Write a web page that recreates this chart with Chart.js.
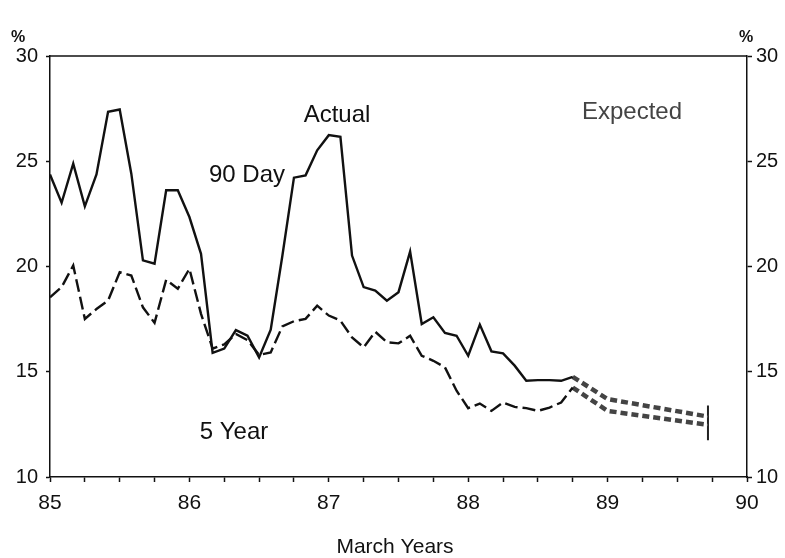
<!DOCTYPE html>
<html>
<head>
<meta charset="utf-8">
<script src="https://cdn.jsdelivr.net/npm/chart.js@4.4.0/dist/chart.umd.min.js"></script>
<style>
  body { margin: 0; background: #fff; }
  #wrap { width: 785px; height: 558px; }
</style>
</head>
<body>
<div id="wrap"><canvas id="myChart"></canvas></div>
<script>
// monthly points starting March 85
const startYear = 85;
const dayRates = [24.37, 23.03, 24.89, 22.86, 24.37, 27.35, 27.46, 24.41, 20.29, 20.13, 23.62, 23.62,
  22.35, 20.6, 15.9, 16.1, 16.98, 16.71, 15.68, 17.0, 20.5, 24.22, 24.33, 25.52,
  26.24, 26.16, 20.52, 19.02, 18.86, 18.38, 18.78, 20.71, 17.27, 17.59, 16.84, 16.71,
  15.76, 17.24, 15.97, 15.87, 15.29, 14.57, 14.6, 14.6, 14.57, 14.76];
const yearRates = [18.54, 19.02, 20.05, 17.51, 17.98, 18.38, 19.73, 19.57, 18.06, 17.32, 19.37, 18.94,
  19.89, 17.75, 16.1, 16.3, 16.8, 16.5, 15.8, 15.92, 17.15, 17.4, 17.51, 18.14,
  17.67, 17.43, 16.63, 16.16, 16.9, 16.4, 16.35, 16.71, 15.76, 15.52, 15.21, 14.1,
  13.27, 13.49, 13.14, 13.54, 13.33, 13.27, 13.14, 13.3, 13.54, 14.25];

// expected part
const expYears = [88.75, 89.0, 89.72];
const expDay = [14.76, 13.7, 12.87];
const expYear = [14.25, 13.14, 12.48];
const endBar = [13.4, 11.75];

const yTicks = [10, 15, 20, 25, 30];
const xLabels = [85, 86, 87, 88, 89, 90];

const FONT = "'Liberation Sans', Arial, sans-serif";

function toPoints(xs, ys) {
  return ys.map((v, i) => ({ x: xs[i], y: v }));
}
const months = dayRates.map((v, i) => startYear + i / 12);

const outline = {
  id: "outline",
  afterDraw(chart) {
    const ctx = chart.ctx;
    const a = chart.chartArea;
    ctx.save();
    ctx.strokeStyle = "#111";
    ctx.lineWidth = 1.5;
    ctx.beginPath();
    ctx.moveTo(a.left, a.top);
    ctx.lineTo(a.right, a.top);
    ctx.stroke();

    ctx.fillStyle = "#111";
    ctx.textAlign = "center";
    ctx.textBaseline = "middle";
    ctx.font = "24px " + FONT;
    ctx.fillText("Actual", 337, 115);
    ctx.fillText("90 Day", 247, 175);
    ctx.fillText("5 Year", 234, 432);
    ctx.fillStyle = "#444";
    ctx.fillText("Expected", 632, 112);
    ctx.fillStyle = "#111";
    ctx.font = "21px " + FONT;
    ctx.fillText("March Years", 395, 547);
    ctx.font = "bold 16px " + FONT;
    ctx.fillText("%", 18, 38);
    ctx.fillText("%", 746, 38);
    ctx.restore();
  },
};

const config = {
  type: "line",
  data: {
    datasets: [
      {
        label: "90 Day",
        data: toPoints(months, dayRates),
        borderColor: "#111",
        borderWidth: 2.4,
        pointRadius: 0,
        tension: 0,
      },
      {
        label: "5 Year",
        data: toPoints(months, yearRates),
        borderColor: "#111",
        borderWidth: 2.4,
        borderDash: [13, 5],
        pointRadius: 0,
        tension: 0,
      },
      {
        label: "Expected 90 Day",
        data: toPoints(expYears, expDay),
        borderColor: "#444",
        borderWidth: 4.5,
        borderDash: [7, 4],
        pointRadius: 0,
      },
      {
        label: "Expected 90 Day inner",
        data: toPoints(expYears, expDay),
        borderColor: "#fff",
        borderWidth: 2,
        borderDash: [7, 4],
        pointRadius: 0,
      },
      {
        label: "Expected 5 Year",
        data: toPoints(expYears, expYear),
        borderColor: "#444",
        borderWidth: 4.5,
        borderDash: [7, 4],
        pointRadius: 0,
      },
      {
        label: "Expected 5 Year inner",
        data: toPoints(expYears, expYear),
        borderColor: "#fff",
        borderWidth: 2,
        borderDash: [7, 4],
        pointRadius: 0,
      },
      {
        label: "end",
        data: toPoints([89.72, 89.72], endBar),
        borderColor: "#222",
        borderWidth: 2,
        pointRadius: 0,
      },
    ],
  },
  options: {
    responsive: true,
    maintainAspectRatio: false,
    animation: false,
    layout: { padding: { top: 56, left: 0, right: 0, bottom: 0 } },
    plugins: { legend: { display: false }, tooltip: { enabled: false } },
    scales: {
      x: {
        type: "linear",
        min: 85,
        max: 90,
        afterFit: (s) => { s.height = 81; },
        afterBuildTicks: (s) => {
          const t = [];
          for (let v = 85; v <= 90.001; v += 0.25) t.push({ value: v });
          s.ticks = t;
        },
        ticks: {
          autoSkip: false,
          maxRotation: 0,
          padding: 9,
          color: "#111",
          font: { family: FONT, size: 21 },
          callback: (v) => (xLabels.includes(v) ? String(v) : ""),
        },
        grid: { drawOnChartArea: false, tickLength: 5, color: "#111", tickWidth: 1.5 },
        border: { color: "#111", width: 1.5 },
      },
      y: {
        position: "left",
        min: 10,
        max: 30,
        afterFit: (s) => { s.width = 50; },
        afterBuildTicks: (s) => { s.ticks = yTicks.map((v) => ({ value: v })); },
        ticks: { color: "#111", padding: 8, font: { family: FONT, size: 20 } },
        grid: { drawOnChartArea: false, tickLength: 4, color: "#111", tickWidth: 1.5 },
        border: { color: "#111", width: 1.5 },
      },
      y2: {
        position: "right",
        min: 10,
        max: 30,
        afterFit: (s) => { s.width = 38; },
        afterBuildTicks: (s) => { s.ticks = yTicks.map((v) => ({ value: v })); },
        ticks: { color: "#111", padding: 4, font: { family: FONT, size: 20 } },
        grid: { drawOnChartArea: false, tickLength: 5, color: "#111", tickWidth: 1.5 },
        border: { color: "#111", width: 1.5 },
      },
    },
  },
  plugins: [outline],
};

var myChart = new Chart(document.getElementById("myChart"), config);
</script>
</body>
</html>
